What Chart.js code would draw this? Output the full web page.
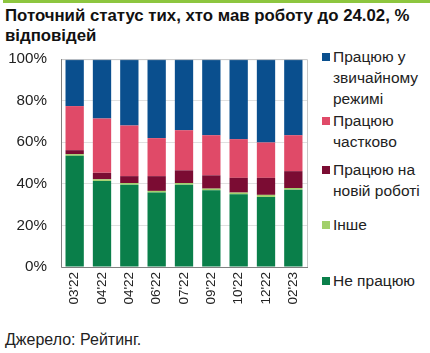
<!DOCTYPE html>
<html><head><meta charset="utf-8">
<script src="https://cdn.jsdelivr.net/npm/chart.js@4/dist/chart.umd.min.js"></script>
<style>
html,body{margin:0;padding:0;background:#fff;}
body{width:430px;height:353px;position:relative;overflow:hidden;font-family:"Liberation Sans",Arial,sans-serif;}
#topbar{position:absolute;left:3px;top:0;width:427px;height:3px;background:#8dc63f;}
#title{position:absolute;left:5px;top:6px;width:425px;font-weight:bold;font-size:16.8px;line-height:20px;color:#111;}
#cw{position:absolute;left:0;top:36px;width:315px;height:289px;}
.lg{position:absolute;left:322px;font-size:15.5px;line-height:21px;color:#222;}
.lg i{position:absolute;left:0;top:7px;width:8px;height:8px;}
.lg span{display:block;margin-left:11px;}
#src{position:absolute;left:5px;top:331px;font-size:16px;color:#222;}
</style></head><body>
<div id="topbar"></div>
<div id="title">Поточний статус тих, хто мав роботу до 24.02, % відповідей</div>
<div id="cw"><canvas id="c" width="315" height="289"></canvas></div>
<div id="legend"></div>
<div id="src">Джерело: Рейтинг.</div>
<script>
const categories = ["03'22","04'22","04'22","06'22","07'22","09'22","10'22","12'22","02'23"];
const notWorking = [53.5,41.4,39.6,35.8,39.6,36.9,35.0,33.7,37.2];
const other      = [0.8,0.8,0.8,0.8,0.8,0.8,0.8,1.0,0.8];
const newJob     = [1.9,3.1,3.3,7.1,6.1,6.4,7.1,8.2,8.1];
const partly     = [21.2,26.1,24.4,18.3,19.3,19.3,18.6,17.0,17.3];
const normal     = [22.6,28.6,31.9,38.0,34.2,36.6,38.5,40.1,36.6];
const yTicks = [0,20,40,60,80,100];

const series = [
  {label:"Не працюю", data:notWorking, color:"#0a7f4a"},
  {label:"Інше", data:other, color:"#a2d06b"},
  {label:"Працюю на новій роботі", data:newJob, color:"#7b0c33"},
  {label:"Працюю частково", data:partly, color:"#e04a68"},
  {label:"Працюю у звичайному режимі", data:normal, color:"#0a4f8e"}
];

const legendItems = [
  {s:4, html:"Працюю у<br>звичайному<br>режимі", top:46},
  {s:3, html:"Працюю<br>частково", top:110},
  {s:2, html:"Працюю на<br>новій роботі", top:159},
  {s:1, html:"Інше", top:214},
  {s:0, html:"Не працюю", top:270}
];
const lg = document.getElementById('legend');
legendItems.forEach(it=>{
  const d=document.createElement('div');d.className='lg';d.style.top=it.top+'px';
  d.innerHTML='<i style="background:'+series[it.s].color+'"></i><span>'+it.html+'</span>';
  lg.appendChild(d);
});

const borderPlugin = {
  id:'border',
  afterDatasetsDraw(chart){
    const {ctx, chartArea:a} = chart;
    ctx.save();
    ctx.lineWidth=1;
    ctx.strokeStyle='#c8c8c8';
    ctx.beginPath();
    ctx.moveTo(a.left, a.top+0.5); ctx.lineTo(a.right+0.5, a.top+0.5); ctx.lineTo(a.right+0.5, a.bottom);
    ctx.stroke();
    ctx.strokeStyle='#808080';
    ctx.beginPath();
    ctx.moveTo(a.left+0.5, a.top); ctx.lineTo(a.left+0.5, a.bottom+0.5); ctx.lineTo(a.right+1, a.bottom+0.5);
    ctx.stroke();
    ctx.restore();
  }
};

new Chart(document.getElementById('c'), {
  type:'bar',
  data:{
    labels:categories,
    datasets:series.map(s=>({label:s.label,data:s.data,backgroundColor:s.color,borderWidth:0,
      categoryPercentage:1, barPercentage:0.67}))
  },
  options:{
    responsive:false, animation:false,
    layout:{padding:{top:5,right:8,left:0,bottom:0}},
    plugins:{legend:{display:false},tooltip:{enabled:false}},
    scales:{
      x:{stacked:true,
        grid:{display:false,drawTicks:false},
        border:{display:false},
        ticks:{maxRotation:90,minRotation:90,padding:5,color:'#222',font:{family:'"Liberation Sans", Arial, sans-serif',size:13.5}},
        afterFit(s){s.height=58;}
      },
      y:{stacked:true,min:0,max:100,
        afterBuildTicks(s){s.ticks=yTicks.map(v=>({value:v}));},
        grid:{color:'#e0e0e0',drawTicks:false},
        border:{display:false},
        ticks:{padding:14,color:'#222',font:{family:'"Liberation Sans", Arial, sans-serif',size:15.2},callback:v=>v+'%'},
        afterFit(s){s.width=61;}
      }
    }
  },
  plugins:[borderPlugin]
});
</script>
</body></html>
